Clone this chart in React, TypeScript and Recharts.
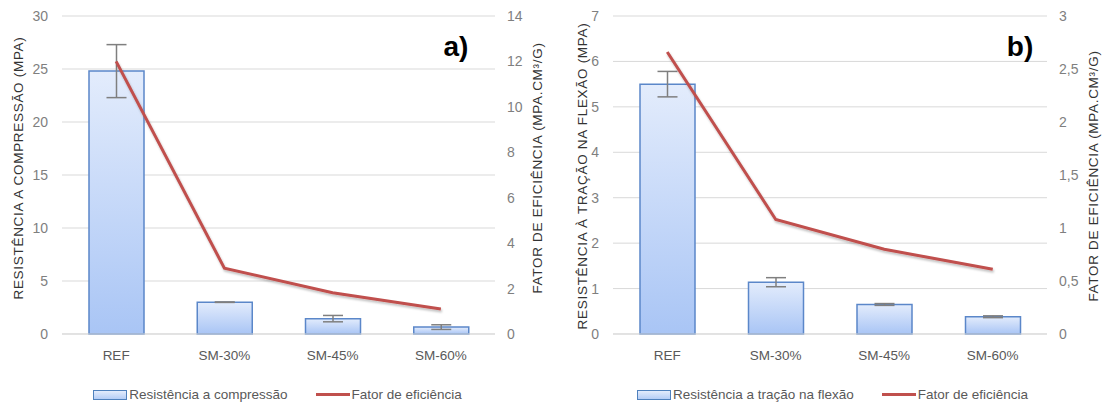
import { ComposedChart, Bar, Line, XAxis, YAxis, CartesianGrid, ErrorBar, Legend } from 'recharts'

const categorias = ['REF', 'SM-30%', 'SM-45%', 'SM-60%']

// a) compressão
const compressao = [24.8, 3.0, 1.45, 0.65]
const compressaoErro = [2.5, 0.02, 0.3, 0.22]
const fatorCompressao = [12.0, 2.9, 1.82, 1.1]

// b) tração na flexão
const tracao = [5.5, 1.14, 0.65, 0.38]
const tracaoErro = [0.28, 0.1, 0.02, 0.02]
const fatorTracao = [2.66, 1.08, 0.8, 0.61]

const ticksA = [0, 5, 10, 15, 20, 25, 30]
const ticksFatorA = [0, 2, 4, 6, 8, 10, 12, 14]
const ticksB = [0, 1, 2, 3, 4, 5, 6, 7]
const ticksFatorB = [0, 0.5, 1, 1.5, 2, 2.5, 3]

const TICK_FONT = '"Liberation Sans", Arial, sans-serif'
const TITLE_FONT = '"Liberation Sans", Arial, sans-serif'
const GRID = '#d9d9d9'
const RED = '#c0504d'

const fmt = (v: number) => String(v).replace('.', ',')

type PanelProps = {
  id: string
  letra: string
  barras: number[]
  erros: number[]
  fator: number[]
  barNome: string
  tituloEsq: string
  tituloDir: string
  ticksEsq: number[]
  ticksDir: number[]
  yEsqWidth: number
  yDirWidth: number
  tituloEsqX: number
  tituloDirX: number
  tituloY: number
}

function eixoTitulo(texto: string, dx: number, cy: number) {
  return (props: any) => {
    const x = props.viewBox.x + dx
    return (
      <text
        x={x}
        y={cy}
        transform={`rotate(-90 ${x} ${cy})`}
        textAnchor="middle"
        dominantBaseline="central"
        fontFamily={TITLE_FONT}
        fontSize={13.5}
        letterSpacing={0.7}
        fill="#333"
      >
        {texto}
      </text>
    )
  }
}

function Legenda({ nome }: { nome: string }) {
  return (
    <div
      style={{
        display: 'flex',
        justifyContent: 'center',
        alignItems: 'center',
        gap: 28,
        paddingTop: 20,
        fontFamily: TICK_FONT,
        fontSize: 13.5,
        color: '#595959',
      }}
    >
      <span style={{ display: 'flex', alignItems: 'center' }}>
        <span
          style={{
            display: 'inline-block',
            width: 32,
            height: 8,
            border: '1px solid #4f81bd',
            background: 'linear-gradient(#e3ecfc, #b4cdf6)',
            marginRight: 2,
          }}
        />
        {nome}
      </span>
      <span style={{ display: 'flex', alignItems: 'center' }}>
        <span style={{ display: 'inline-block', width: 34, height: 3, background: RED, marginRight: 2 }} />
        Fator de eficiência
      </span>
    </div>
  )
}

function Painel(p: PanelProps) {
  const dados = categorias.map((c, i) => ({
    cat: c,
    valor: p.barras[i],
    erro: p.erros[i],
    fator: p.fator[i],
  }))

  return (
    <ComposedChart
      width={555}
      height={407}
      data={dados}
      margin={{ top: 16, right: 0, left: 0, bottom: 0 }}
    >
      <defs>
        <linearGradient id={`grad-${p.id}`} x1="0" y1="0" x2="0" y2="1">
          <stop offset="0%" stopColor="#e3ecfc" />
          <stop offset="100%" stopColor="#a9c5f5" />
        </linearGradient>
        <filter id={`sombra-${p.id}`} x="-10%" y="-10%" width="120%" height="130%">
          <feDropShadow dx="1" dy="2" stdDeviation="1.2" floodColor="#000" floodOpacity="0.25" />
        </filter>
      </defs>
      <CartesianGrid yAxisId="esq" vertical={false} stroke={GRID} />
      <XAxis
        dataKey="cat"
        height={33}
        axisLine={{ stroke: GRID }}
        tickLine={false}
        tickSize={0}
        tickMargin={16}
        tick={{ fontFamily: TICK_FONT, fontSize: 13.5, fill: '#595959' }}
      />
      <YAxis
        yAxisId="esq"
        domain={[p.ticksEsq[0], p.ticksEsq[p.ticksEsq.length - 1]]}
        ticks={p.ticksEsq}
        width={p.yEsqWidth}
        axisLine={false}
        tickLine={false}
        tickSize={0}
        tickMargin={14}
        tickFormatter={fmt}
        tick={{ fontFamily: TICK_FONT, fontSize: 14, fill: '#7f7f7f' }}
        label={{ content: eixoTitulo(p.tituloEsq, p.tituloEsqX, p.tituloY) }}
      />
      <YAxis
        yAxisId="dir"
        orientation="right"
        domain={[p.ticksDir[0], p.ticksDir[p.ticksDir.length - 1]]}
        ticks={p.ticksDir}
        width={p.yDirWidth}
        axisLine={false}
        tickLine={false}
        tickSize={0}
        tickMargin={12}
        tickFormatter={fmt}
        tick={{ fontFamily: TICK_FONT, fontSize: 14, fill: '#7f7f7f' }}
        label={{ content: eixoTitulo(p.tituloDir, p.tituloDirX, p.tituloY) }}
      />
      <Legend verticalAlign="bottom" height={40} content={() => <Legenda nome={p.barNome} />} />
      <Bar
        yAxisId="esq"
        dataKey="valor"
        name={p.barNome}
        barSize={55}
        fill={`url(#grad-${p.id})`}
        stroke="#5b87c9"
        strokeWidth={1.5}
        isAnimationActive={false}
      >
        <ErrorBar dataKey="erro" width={10} stroke="#7f7f7f" strokeWidth={1.5} />
      </Bar>
      <Line
        yAxisId="dir"
        dataKey="fator"
        name="Fator de eficiência"
        type="linear"
        stroke={RED}
        strokeWidth={3}
        filter={`url(#sombra-${p.id})`}
        dot={false}
        activeDot={false}
        isAnimationActive={false}
      />
      <text x={p.id === 'a' ? 456 : 465} y={46} textAnchor="middle" dominantBaseline="central"
        fontFamily={TITLE_FONT} fontSize={28} fontWeight="bold" fill="#000">
        {p.letra}
      </text>
    </ComposedChart>
  )
}

export default function App() {
  return (
    <div style={{ position: 'absolute', left: 0, top: 0, width: 1110, height: 407, background: '#fff', display: 'flex' }}>
      <Painel
        id="a"
        letra="a)"
        barras={compressao}
        erros={compressaoErro}
        fator={fatorCompressao}
        barNome="Resistência a compressão"
        tituloEsq="RESISTÊNCIA A COMPRESSÃO (MPA)"
        tituloDir="FATOR DE EFICIÊNCIA (MPA.CM³/G)"
        ticksEsq={ticksA}
        ticksDir={ticksFatorA}
        yEsqWidth={62}
        yDirWidth={60}
        tituloEsqX={18}
        tituloDirX={42}
        tituloY={168}
      />
      <Painel
        id="b"
        letra="b)"
        barras={tracao}
        erros={tracaoErro}
        fator={fatorTracao}
        barNome="Resistência a tração na flexão"
        tituloEsq="RESISTÊNCIA À TRAÇÃO NA FLEXÃO (MPA)"
        tituloDir="FATOR DE EFICIÊNCIA  (MPA.CM³/G)"
        ticksEsq={ticksB}
        ticksDir={ticksFatorB}
        yEsqWidth={58}
        yDirWidth={63}
        tituloEsqX={27}
        tituloDirX={46}
        tituloY={176}
      />
    </div>
  )
}
